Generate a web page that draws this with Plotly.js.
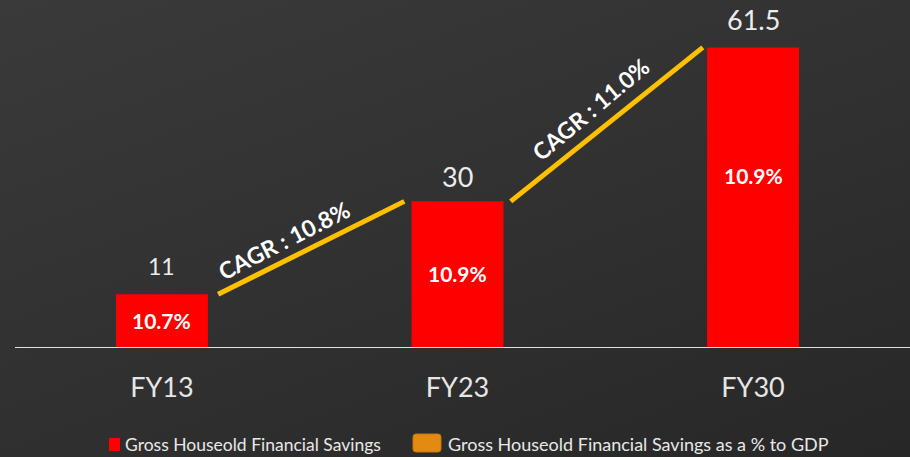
<!DOCTYPE html>
<html>
<head>
<meta charset="utf-8">
<script src="https://cdn.plot.ly/plotly-3.0.1.min.js"></script>
<style>
  html, body { margin:0; padding:0; }
  body { width:910px; height:457px; overflow:hidden;
         background: linear-gradient(160deg, #3a3a3a 0%, #303030 55%, #272727 100%); }
  #chart { width:910px; height:457px; }
</style>
</head>
<body>
<div id="chart"></div>
<script>
const categories = ["FY13", "FY23", "FY30"];
const savings = [11, 30, 61.5];
const valueLabels = ["11", "30", "61.5"];
const gdpShare = ["10.7%", "10.9%", "10.9%"];
const cagrLabels = ["CAGR : 10.8%", "CAGR : 11.0%"];
const legendNames = ["Gross Houseold Financial Savings", "Gross Houseold Financial Savings as a % to GDP"];

const xIdx = categories.map((c, i) => i);
const FONT = "Lato, 'Open Sans', sans-serif";

const traces = [{
  type: "bar",
  x: xIdx,
  y: savings,
  width: 0.311,
  marker: { color: "#ff0000", line: { width: 0 } },
  hoverinfo: "skip",
  showlegend: false
}];

const shapes = [];
const annotations = [];

// value labels above bars
const valueFont = [
  { family: FONT, size: 23, color: "#ececec" },
  { family: FONT, size: 27, color: "#ececec" },
  { family: FONT, size: 27, color: "#ececec" }
];
const valueShift = [28, 25, 28];
savings.forEach((v, i) => {
  annotations.push({
    x: i, y: v, xref: "x", yref: "y", text: valueLabels[i],
    showarrow: false, yanchor: "middle", yshift: valueShift[i],
    font: valueFont[i]
  });
  annotations.push({
    x: i, y: v * 0.5, xref: "x", yref: "y", text: "<b>" + gdpShare[i] + "</b>",
    showarrow: false, yanchor: "middle", yshift: i === 2 ? 22 : 1,
    font: { family: FONT, size: 21, color: "#ffffff" }
  });
});

// CAGR connector lines
const lineStart = [0.19, 1.18];
const lineEnd = [0.82, 1.83];
const textAngle = [-27, -40];
const textShift = [[-27, 8], [-16, 15]];
for (let i = 0; i < savings.length - 1; i++) {
  const x0 = lineStart[i], x1 = lineEnd[i];
  const y0 = savings[i], y1 = savings[i + 1];
  shapes.push({
    type: "line", xref: "x", yref: "y", x0: x0, y0: y0, x1: x1, y1: y1,
    line: { color: "#ffc000", width: 5 }
  });
  annotations.push({
    x: (x0 + x1) / 2, y: (y0 + y1) / 2, xref: "x", yref: "y",
    text: "<b>" + cagrLabels[i] + "</b>", showarrow: false,
    textangle: textAngle[i], xshift: textShift[i][0], yshift: textShift[i][1],
    font: { family: FONT, size: 23, color: "#ffffff" }
  });
}

// baseline axis line
shapes.push({
  type: "line", xref: "paper", yref: "y", x0: 15 / 910, x1: 1, y0: 0, y1: 0,
  line: { color: "#e0e0e0", width: 2 }
});

// custom legend
shapes.push({
  type: "rect", xref: "paper", yref: "paper",
  x0: 109 / 910, x1: 120 / 910, y0: -103 / 348, y1: -90 / 348,
  fillcolor: "#ff0000", line: { width: 0 }
});
// rounded orange swatch (pixel coordinates converted to paper)
(function () {
  const px = (x) => x / 910, py = (y) => (348 - y) / 348;
  const x0 = 413, x1 = 441, y0 = 434, y1 = 452, r = 3;
  const path = `M ${px(x0 + r)},${py(y0)} L ${px(x1 - r)},${py(y0)} Q ${px(x1)},${py(y0)} ${px(x1)},${py(y0 + r)} ` +
               `L ${px(x1)},${py(y1 - r)} Q ${px(x1)},${py(y1)} ${px(x1 - r)},${py(y1)} ` +
               `L ${px(x0 + r)},${py(y1)} Q ${px(x0)},${py(y1)} ${px(x0)},${py(y1 - r)} ` +
               `L ${px(x0)},${py(y0 + r)} Q ${px(x0)},${py(y0)} ${px(x0 + r)},${py(y0)} Z`;
  shapes.push({
    type: "path", xref: "paper", yref: "paper", path: path,
    fillcolor: "#e48a12", line: { color: "#c7760c", width: 1 }
  });
})();
annotations.push({
  xref: "paper", yref: "paper", x: 123 / 910, y: -96 / 348,
  xanchor: "left", yanchor: "middle", showarrow: false, text: legendNames[0],
  font: { family: FONT, size: 17.5, color: "#e8e8e8" }
});
annotations.push({
  xref: "paper", yref: "paper", x: 446 / 910, y: -96 / 348,
  xanchor: "left", yanchor: "middle", showarrow: false, text: legendNames[1],
  font: { family: FONT, size: 18, color: "#e8e8e8" }
});

const layout = {
  width: 910, height: 457,
  margin: { l: 0, r: 0, t: 0, b: 109 },
  paper_bgcolor: "rgba(0,0,0,0)",
  plot_bgcolor: "rgba(0,0,0,0)",
  showlegend: false,
  xaxis: {
    range: [-0.548, 2.531],
    tickvals: xIdx, ticktext: categories,
    showgrid: false, zeroline: false, showline: false, ticks: "",
    ticklabelstandoff: 21,
    tickfont: { family: FONT, size: 27, color: "#e6e6e6" },
    fixedrange: true
  },
  yaxis: {
    range: [0, 71.2],
    visible: false, showgrid: false, zeroline: false, fixedrange: true
  },
  shapes: shapes,
  annotations: annotations
};

Plotly.newPlot("chart", traces, layout, { displayModeBar: false, staticPlot: true });
</script>
</body>
</html>
